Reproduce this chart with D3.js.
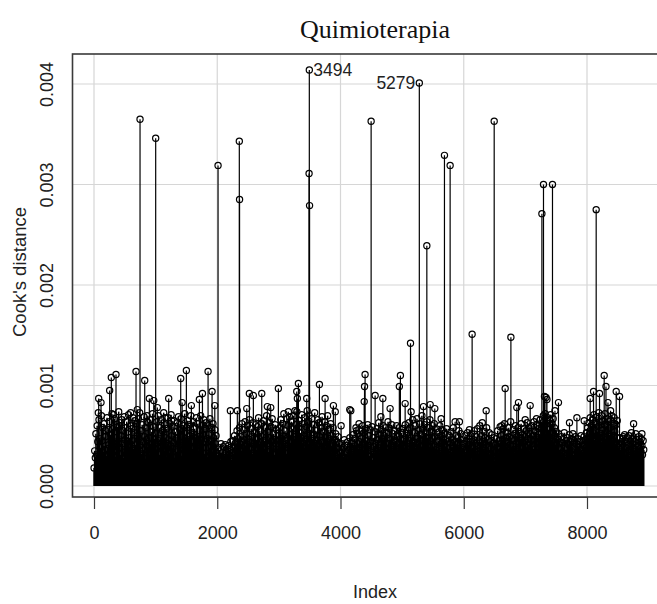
<!DOCTYPE html>
<html>
<head>
<meta charset="utf-8">
<script src="https://cdn.jsdelivr.net/npm/d3@7"></script>
<style>
  html, body { margin: 0; padding: 0; background: #fff; }
  svg { display: block; }
</style>
</head>
<body>
<svg id="chart" width="657" height="604"></svg>
<script>
// ---- data (Cook's distance, values in units of 1e-5) ----
const chartTitle = "Quimioterapia";
const xLabel = "Index";
const yLabel = "Cook's distance";
const xTicks = [0, 2000, 4000, 6000, 8000];
const yTicks = [0, 0.001, 0.002, 0.003, 0.004];
const yTickLabels = ["0.000", "0.001", "0.002", "0.003", "0.004"];

// dense background, about one value per 10 observations, by block of 1000 indices
const base0 = [18,35,28,52,31,60,44,26,66,47,38,29,70,45,58,33,62,36,49,55,30,68,37,56,41,64,27,51,46,72,57,40,34,67,48,29,61,36,59,43,74,38,63,31,50,66,42,55,28,69,46,58,35,64,44,30,71,48,39,60,33,57,45,68,37,53,65,41,28,62,50,34,67,47,73,40,55,32,61,44,36,69,49,27,58,46,70,39,63,48,31,66,41,54,38,72,35,59,47,42];
const base1 = [52,36,64,43,70,45,31,58,47,66,39,55,44,73,35,61,48,29,57,42,68,46,33,62,40,71,50,37,59,43,65,28,54,47,34,63,45,69,41,56,38,67,30,57,49,60,36,72,47,42,58,33,65,46,39,61,50,70,44,53,37,64,45,57,31,48,68,40,62,49,35,55,43,70,46,60,38,51,66,32,57,44,63,47,29,60,51,38,67,45,40,58,34,62,48,36,56,42,50,33];
const base2 = [30,22,38,27,35,24,42,28,33,26,39,30,23,41,34,27,37,25,40,31,36,28,44,26,33,45,30,38,50,34,43,36,55,33,47,39,58,42,49,35,62,44,37,56,46,64,40,52,34,60,47,38,66,44,36,57,49,32,63,42,53,38,61,46,35,59,48,68,41,55,44,33,62,49,39,65,45,36,58,47,70,42,54,34,63,48,40,59,44,67,37,52,46,31,61,42,56,45,36,50];
const base3 = [46,58,35,66,47,40,62,50,72,41,55,45,32,67,48,60,38,69,51,43,64,39,57,31,70,46,49,61,36,74,44,58,42,65,34,53,48,71,43,62,50,37,68,46,59,35,64,52,41,70,44,56,30,67,47,39,61,51,73,42,55,46,34,66,40,63,49,36,58,45,69,43,54,33,64,48,38,60,44,70,35,56,47,40,62,33,50,42,58,36,46,30,52,29,44,37,49,28,42,34];
const base4 = [33,26,42,30,38,24,46,34,28,40,32,25,44,36,29,48,39,27,43,33,51,37,30,47,40,58,34,52,42,36,62,44,33,55,47,38,60,35,53,42,31,57,45,37,61,40,50,30,56,44,35,59,26,48,39,32,54,42,35,57,46,38,63,33,51,41,56,36,47,60,39,50,32,58,43,53,37,64,42,34,57,46,40,61,36,52,44,33,55,45,38,60,34,49,42,58,37,47,35,53];
const base5 = [45,34,57,46,38,61,35,52,42,56,33,63,45,37,58,48,40,66,44,34,53,60,38,47,67,42,55,35,62,45,51,39,70,46,57,36,61,44,53,33,64,48,41,58,38,66,45,54,35,60,47,39,62,49,36,57,44,32,53,45,38,60,34,50,42,56,31,47,40,52,35,46,57,32,44,37,50,30,43,54,34,46,38,58,31,44,36,50,41,29,48,37,55,33,43,52,35,46,38,31];
const base6 = [42,33,50,28,45,36,53,30,41,47,34,44,26,52,38,31,46,55,34,42,49,30,57,40,32,46,60,43,36,50,63,44,37,54,33,48,41,58,32,46,38,53,30,44,37,51,29,42,35,48,25,41,34,47,39,55,32,45,37,59,42,50,35,46,57,40,62,33,48,38,53,44,58,36,49,41,64,34,47,40,56,45,33,52,60,42,49,36,58,44,54,39,47,62,37,51,43,57,34,49];
const base7 = [45,55,38,63,47,41,58,35,52,46,60,39,50,36,64,46,54,42,67,48,37,57,44,52,66,40,59,47,63,70,48,60,72,52,65,45,68,56,49,66,58,71,46,62,53,67,43,58,50,40,54,33,47,38,52,31,44,36,49,30,43,46,33,53,38,29,45,36,48,32,41,51,30,44,35,47,37,52,31,45,36,49,28,42,34,47,39,30,44,35,50,36,45,32,41,49,34,46,38,53];
const base8 = [44,58,47,63,52,68,43,60,50,66,53,71,46,62,55,45,69,50,59,73,48,64,52,44,70,56,65,49,61,72,46,60,54,67,43,64,51,47,66,55,70,45,62,50,68,54,42,61,48,65,42,38,33,48,36,30,44,35,47,32,39,51,31,44,38,48,34,41,50,30,45,36,53,33,42,47,37,31,44,52,35,46,40,33,49,37,44,34,47,40,31,45,36];

// medium spikes (index, value in 1e-5)
const midIdx = [70,76,114,254,281,317,357,417,595,682,703,823,898,970,1028,1150,1212,1260,1407,1430,1499,1580,1710,1760,1851,1916,1960,2213,2326,2479,2521,2586,2722,2813,2868,2992,3154,3262,3290,3300,3317,3452,3460,3658,3750,3885,3915,4010,4150,4167,4260,4385,4390,4399,4562,4655,4687,4805,4955,4972,5049,5146,5346,5455,5530,5633,5860,5930,6093,6364,6618,6672,6861,6888,6997,7078,7185,7310,7335,7350,7480,7537,7716,7836,7955,8052,8106,8203,8279,8308,8340,8383,8474,8528,8593,8756,8891];
const midVal = [73,87,83,95,108,71,111,60,73,114,76,105,87,85,78,68,87,65,107,83,115,80,86,92,114,94,80,75,75,77,92,90,92,79,78,97,74,75,94,87,102,87,75,101,87,80,74,60,76,75,55,84,99,111,90,69,87,77,99,110,82,74,79,81,77,67,64,64,56,75,60,97,78,83,66,80,60,89,88,86,75,83,63,68,65,87,94,92,110,99,83,75,94,89,49,62,52];

// tall spikes (index, value in 1e-5)
const bigIdx = [747,1001,2013,2358,2362,3490,3494,3498,4497,5136,5279,5401,5687,5779,6136,6494,6765,7268,7294,7440,8149];
const bigVal = [365,346,319,343,285,311,414,279,363,142,401,239,329,319,151,363,148,271,300,300,275];

// labelled points
const labelIdx = [3494, 5279];
const labelSide = ["right", "left"];

// ---- build point table ----
const baseBlocks = [base0, base1, base2, base3, base4, base5, base6, base7, base8];
const points = [];
baseBlocks.forEach((blk, b) => {
  const step = b < 8 ? 1000 / blk.length : 10;
  blk.forEach((v, i) => points.push({idx: b * 1000 + i * step + 1, val: v * 1e-5, base: true}));
});
midIdx.forEach((d, i) => points.push({idx: d, val: midVal[i] * 1e-5, base: false}));
bigIdx.forEach((d, i) => points.push({idx: d, val: bigVal[i] * 1e-5, base: false}));

// ---- layout ----
const svg = d3.select("#chart");
const box = {left: 72.5, top: 54, right: 668, bottom: 497};
const x = d3.scaleLinear().domain([0, 8000]).range([94, 587]);
const y = d3.scaleLinear().domain([0, 0.004]).range([486, 84]);
const font = "'Liberation Sans', Arial, Helvetica, sans-serif";
const textColor = "#222";

// grid
const grid = svg.append("g").attr("stroke", "#d6d6d6").attr("stroke-width", 1.2);
grid.selectAll("line.v").data(xTicks).join("line")
  .attr("x1", d => x(d)).attr("x2", d => x(d))
  .attr("y1", box.top).attr("y2", box.bottom);
grid.selectAll("line.h").data(yTicks).join("line")
  .attr("x1", box.left).attr("x2", box.right)
  .attr("y1", d => y(d)).attr("y2", d => y(d));

// stems
const marks = svg.append("g");
marks.append("g").attr("stroke", "#000")
  .selectAll("line").data(points).join("line")
  .attr("stroke-width", d => d.base ? 1.5 : 1.2)
  .attr("x1", d => x(d.idx)).attr("x2", d => x(d.idx))
  .attr("y1", y(0)).attr("y2", d => y(d.val));
// circles
marks.append("g").attr("stroke", "#000").attr("stroke-width", 1.2).attr("fill", "none")
  .selectAll("circle").data(points).join("circle")
  .attr("cx", d => x(d.idx)).attr("cy", d => y(d.val)).attr("r", 3.1);

// point labels
const labelData = labelIdx.map((d, i) => ({idx: d, val: bigVal[bigIdx.indexOf(d)] * 1e-5, side: labelSide[i]}));
svg.append("g").selectAll("text").data(labelData).join("text")
  .attr("x", d => x(d.idx) + (d.side === "right" ? 4 : -4))
  .attr("y", d => y(d.val))
  .attr("dy", "0.36em")
  .attr("text-anchor", d => d.side === "right" ? "start" : "end")
  .attr("font-family", font).attr("font-size", 17.5).attr("fill", textColor)
  .text(d => d.idx);

// box
svg.append("rect")
  .attr("x", box.left).attr("y", box.top)
  .attr("width", box.right - box.left).attr("height", box.bottom - box.top)
  .attr("fill", "none").attr("stroke", "#3a3a3a").attr("stroke-width", 1.6);

// x axis
const xAxis = svg.append("g").attr("transform", `translate(0,${box.bottom})`)
  .call(d3.axisBottom(x).tickValues(xTicks).tickSize(12).tickSizeOuter(0).tickPadding(17).tickFormat(d3.format("d")));
xAxis.select(".domain").attr("stroke", "#3a3a3a").attr("stroke-width", 1.2);
xAxis.selectAll(".tick line").attr("stroke", "#3a3a3a").attr("stroke-width", 1.2);
xAxis.selectAll(".tick text").attr("font-family", font).attr("font-size", 18).attr("fill", textColor);

// y axis (rotated labels, no tick marks)
const yAxis = svg.append("g").attr("transform", `translate(${box.left},0)`)
  .call(d3.axisLeft(y).tickValues(yTicks).tickSize(0).tickFormat((d, i) => yTickLabels[i]));
yAxis.select(".domain").remove();
yAxis.selectAll(".tick text")
  .attr("transform", "rotate(-90)")
  .attr("x", 0).attr("y", -20).attr("dy", 0)
  .attr("text-anchor", "middle")
  .attr("font-family", font).attr("font-size", 18).attr("fill", textColor);

// axis titles
svg.append("text")
  .attr("x", 375).attr("y", 598)
  .attr("text-anchor", "middle")
  .attr("font-family", font).attr("font-size", 18).attr("fill", textColor)
  .text(xLabel);
svg.append("text")
  .attr("transform", "translate(26,272) rotate(-90)")
  .attr("text-anchor", "middle")
  .attr("font-family", font).attr("font-size", 18.5).attr("fill", textColor)
  .text(yLabel);

// title
svg.append("text")
  .attr("x", 375).attr("y", 38)
  .attr("text-anchor", "middle")
  .attr("font-family", "'Liberation Serif', 'Times New Roman', serif").attr("font-size", 26).attr("fill", "#111")
  .text(chartTitle);
</script>
</body>
</html>
